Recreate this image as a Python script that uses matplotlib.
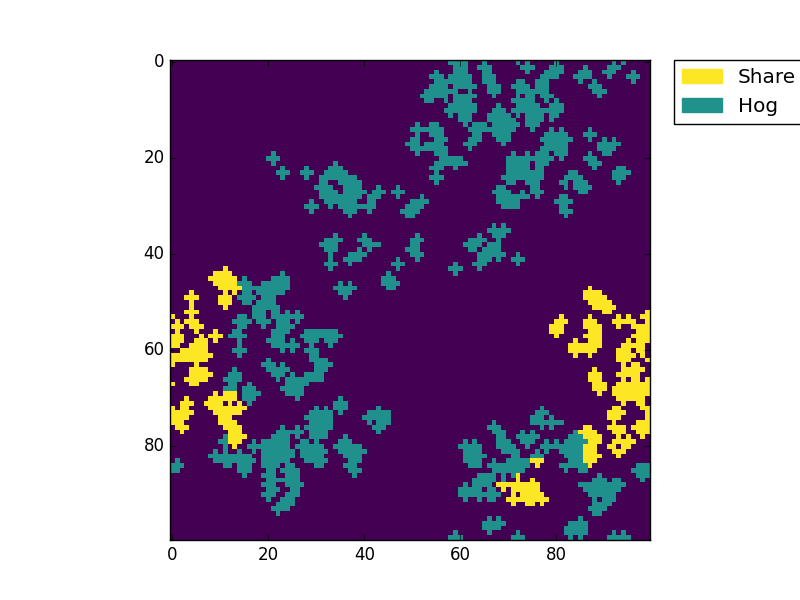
import matplotlib
matplotlib.use('Agg')
import matplotlib.pyplot as plt
import matplotlib.patches as mpatches
import numpy as np

# one string per row, columns or column ranges
hog_rows = [
    "58-61 65 72 74 80 92 94",
    "59-61 64-66 73-75 79-81 86 91-93",
    "55 59-61 65-66 74 78-81 85-87 90-92 96",
    "54-56 58-62 65-67 77-80 84-87 91 95-97",
    "55-62 65-67 72-73 76-78 85 88 96",
    "54-57 59-63 66-68 71-74 76-78 87-89",
    "53-59 62 66-68 72-78 88-90",
    "52-57 59-63 67 72 74-75 77-79 89",
    "53-54 57 59-62 71-75 78 80",
    "58-63 68 72-76 79-81",
    "57-63 67-69 71-81",
    "58 60-62 66-70 72 74-77 79-80",
    "60-62 66-71 74-77 79",
    "51 54-55 61 63-65 67-72 74-76",
    "50-56 62-71 75 79 81 87",
    "51 54-56 63-64 67-70 78-82 86-88",
    "50-51 55-57 62-64 68-70 77-83 87 90 92",
    "49-51 53-56 61-63 69 78-82 89-93",
    "50-57 62 77-82 89-92",
    "21 51 55-57 71 74 76-78 80-82 87 90-91",
    "20-22 56-60 70-79 81 86-88",
    "21 34 55-61 70-74 76-78 87-89",
    "23 28 33-35 54-56 59 70-74 76-77 88 93-94",
    "22-24 27-29 32-36 55 70-77 83-84 92-95",
    "23 28 31-38 54-56 69-77 82-85 92-94",
    "31-32 35-39 55 70-71 74-76 81-82 84-86 93",
    "30-33 36-39 43 47 68-69 75-76 82 84-87",
    "31-34 36-40 42-44 46-48 67-70 73 75-77 85-86",
    "31-39 41-43 47 52 68-74 76 81-82",
    "29 32-38 41-42 50-53 68-72 80-83",
    "28-30 33 35-42 49-52 69-72 81-82",
    "29 36-38 41 48-51 81-83",
    "37 49-50 82",
    "",
    "67 69",
    "66-70",
    "34 40 51 64 67-69",
    "32-35 39-41 50-52 62-65 68",
    "31-34 40-43 50-51 61-64 66-68",
    "32-34 39 41 49-51 62-63 65-68",
    "33 37-40 50-52 64-69 72",
    "33 36-39 47 51 64-66 68 71-73",
    "32-34 37 46-48 59 63-65 72",
    "33 47 58-60 64",
    "23 45 59",
    "15 21-24 44-46",
    "14-16 19-24 35 37 44-47",
    "15-24 34-38 45-46",
    "15-16 18-23 35-37",
    "14-17 19-21 36",
    "15-16 18-21",
    "17-22",
    "17-19 21-22 24 26",
    "14-15 17-19 21-27",
    "13-16 18-20 22-24 26",
    "14-15 19 22-25",
    "13-14 21-24 28-34",
    "12-15 21-23 27-35",
    "14 20-23 25 28-30 32-34",
    "14 21-26 29 33",
    "13-15 23 25 28-30",
    "14 29-30",
    "20 29-32",
    "19-21 23 30-33",
    "13 20-24 30-32",
    "12-14 21-23 25 28-31",
    "11-14 22 24-31",
    "12-13 16 24-28",
    "11-13 15-17 23-27",
    "15-18 24-27",
    "15-17 26 35",
    "16 34-36",
    "30 32 34-36 43 77",
    "29-33 35 41-45 76-78",
    "28-33 40-45 75-77 79",
    "29-33 41 43-45 67 75-81",
    "23 26 28-33 42-44 66-68 77 79",
    "22-27 29-32 43 67-69 73 75 84",
    "11 21-24 26 29-32 36 68-69 72-76 83-85",
    "10-11 17 19-24 27-28 30 35-37 61 63 68-70 73-75 78 80 82-86",
    "11 16-24 26-31 34-39 60-64 68-71 74 77-85",
    "9 11 14 17 19-25 27-32 35-40 61-64 69-72 76 78 81-85",
    "8-16 19-25 27-31 36-39 61-65 71-72 75-77 82-85",
    "1 9-17 19-24 28-32 37-39 61-64 67 70-74 83-85",
    "0-2 11-12 14-16 19-22 24-25 30-31 36-38 62-64 66-74 81-86 97-99",
    "0-1 14-16 20-21 23-26 37-39 67-73 82 85-86 96-99",
    "15 19-21 24-26 38 64-67 69 71 89 97-99",
    "20-26 63-67 69 88-90 92-93 98",
    "19-21 24-27 61 63-66 85-94",
    "20-22 25-26 60-64 66-67 86-93",
    "19-21 24-26 60-68 87-92",
    "20 23-25 61 64 66-67 88 90-92",
    "22-25 88-91",
    "21-24 87-90",
    "22 88-89",
    "66 68 85",
    "65-69 83-86",
    "65-68 82-86",
    "59 66 72 82-86 92 94",
    "58-60 71-73 83 85 91-95",
]

share_rows = {
    43: "11",
    44: "9-12",
    45: "8-13",
    46: "9-13",
    47: "10-14 87",
    48: "4 11 13 86-89",
    49: "3-5 10-12 86-90",
    50: "4 10-12 87-91",
    51: "4 11 88-92",
    52: "3-5 90-91 99",
    53: "0 4 81 87 93 95 98-99",
    54: "1 3-5 80-82 86-88 92-96 99",
    55: "0-2 4-6 79-81 86-89 93 96-99",
    56: "1 5 9 79-81 87-89 97-99",
    57: "0-2 6 8-10 80 86-89 96-99",
    58: "0-2 5-7 9 84 87-89 95 97-99",
    59: "0-1 4-7 83-89 94-98",
    60: "2-7 83-88 93-95 97-98",
    61: "0-8 84 87 93-96 98",
    62: "0-7 93-95 99",
    63: "0 5 94 96-97",
    64: "4-7 88 94-98",
    65: "4-8 87-89 93-97",
    66: "3-7 87-89 94 96-97 99",
    67: "0 4-5 88-90 93-99",
    68: "88-90 92-99",
    69: "9 11-13 89 92-99",
    70: "3 8-13 93-98",
    71: "2-4 7-10 12 14 94 97-98",
    72: "0 2-3 8-15 92-93 98-99",
    73: "0-4 9-14 91-94 99",
    74: "0-3 10-12 91-93 99",
    75: "0-2 10-13 92 97-99",
    76: "1-3 11-14 86-87 91-94 96-99",
    77: "2 12-14 85-88 92-94 97-99",
    78: "12-15 86-89 93 95 98",
    79: "12-14 87-89 92-96",
    80: "13 86-88 91-92 94-95",
    81: "86-88 92-94",
    82: "86-89 93",
    83: "75-77 86-88",
    84: "76 87",
    86: "72",
    87: "72 75",
    88: "68-76",
    89: "69 71-76",
    90: "71 73-77",
    91: "70-78",
    92: "71 74-75 77",
}

labels = ['Share', 'Hog']


def fill_row(grid, row, text, value):
    for part in text.split():
        if '-' in part:
            start, end = part.split('-')
        else:
            start, end = part, part
        grid[row, int(start):int(end) + 1] = value


def main():
    grid = np.zeros((100, 100))
    for row, text in enumerate(hog_rows):
        fill_row(grid, row, text, 1)
    for row, text in share_rows.items():
        fill_row(grid, row, text, 2)

    plt.style.use('classic')
    fig = plt.figure(figsize=(8, 6), dpi=100)
    ax = fig.add_subplot(111)
    img = ax.imshow(grid, cmap='viridis', interpolation='nearest')

    handles = [mpatches.Patch(color=img.cmap(img.norm(2)), label=labels[0]),
               mpatches.Patch(color=img.cmap(img.norm(1)), label=labels[1])]
    ax.legend(handles=handles, bbox_to_anchor=(1.05, 1), loc=2, borderaxespad=0.)
    fig.savefig('out.png', dpi=100)


if __name__ == '__main__':
    main()
